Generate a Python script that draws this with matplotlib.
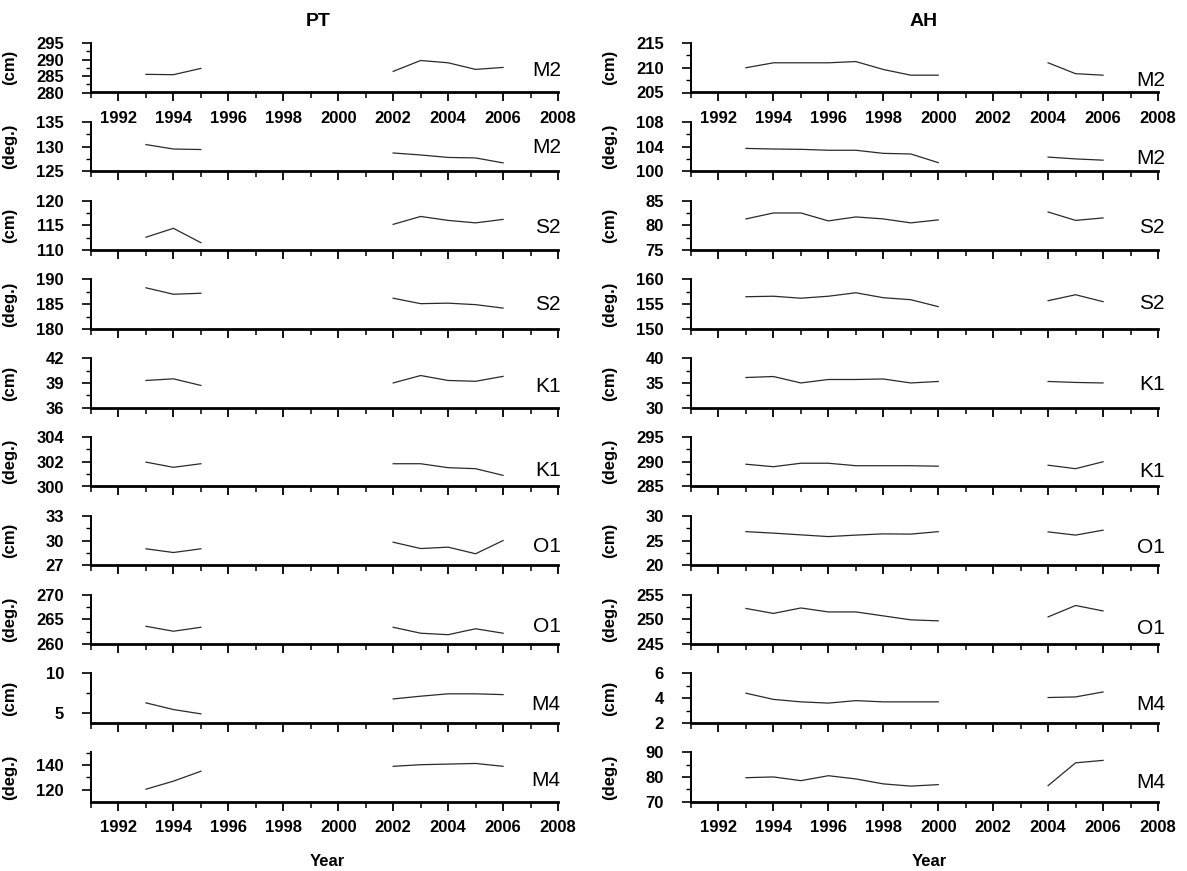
import matplotlib
matplotlib.use("Agg")
import matplotlib.pyplot as plt
from matplotlib.ticker import MultipleLocator, FixedLocator

plt.rcParams['font.family'] = ['Liberation Sans', 'DejaVu Sans']

# ---------------- data ----------------
pt_years_a = [1993, 1994, 1995]
pt_years_b = [2002, 2003, 2004, 2005, 2006]
ah_years_a = [1993, 1994, 1995, 1996, 1997, 1998, 1999, 2000]
ah_years_b = [2004, 2005, 2006]

constituents = ["M2", "M2", "S2", "S2", "K1", "K1", "O1", "O1", "M4", "M4"]
units = ["(cm)", "(deg.)"] * 5

# PT station
pt_m2_amp_a = [285.5, 285.4, 287.3]
pt_m2_amp_b = [286.4, 289.7, 289.0, 287.0, 287.6]
pt_m2_pha_a = [130.4, 129.5, 129.4]
pt_m2_pha_b = [128.7, 128.3, 127.8, 127.7, 126.7]
pt_s2_amp_a = [112.6, 114.4, 111.5]
pt_s2_amp_b = [115.2, 116.8, 116.0, 115.5, 116.2]
pt_s2_pha_a = [188.3, 187.0, 187.2]
pt_s2_pha_b = [186.2, 185.1, 185.2, 184.9, 184.2]
pt_k1_amp_a = [39.3, 39.5, 38.7]
pt_k1_amp_b = [39.0, 39.9, 39.3, 39.2, 39.8]
pt_k1_pha_a = [301.97, 301.55, 301.84]
pt_k1_pha_b = [301.84, 301.84, 301.52, 301.44, 300.9]
pt_o1_amp_a = [29.0, 28.55, 29.0]
pt_o1_amp_b = [29.8, 29.03, 29.2, 28.4, 30.0]
pt_o1_pha_a = [263.6, 262.6, 263.4]
pt_o1_pha_b = [263.4, 262.2, 261.9, 263.1, 262.2]
pt_m4_amp_a = [6.25, 5.4, 4.85]
pt_m4_amp_b = [6.75, 7.1, 7.4, 7.4, 7.3]
pt_m4_pha_a = [120.5, 127.0, 135.0]
pt_m4_pha_b = [139.0, 140.3, 140.8, 141.3, 139.0]

# AH station
ah_m2_amp_a = [210.0, 211.0, 211.0, 211.0, 211.25, 209.65, 208.5, 208.5]
ah_m2_amp_b = [211.0, 208.8, 208.5]
ah_m2_pha_a = [103.7, 103.6, 103.55, 103.4, 103.4, 102.9, 102.8, 101.4]
ah_m2_pha_b = [102.3, 102.0, 101.8]
ah_s2_amp_a = [81.3, 82.5, 82.5, 80.9, 81.7, 81.3, 80.5, 81.1]
ah_s2_amp_b = [82.7, 81.0, 81.5]
ah_s2_pha_a = [156.5, 156.6, 156.2, 156.6, 157.3, 156.3, 155.9, 154.5]
ah_s2_pha_b = [155.7, 156.9, 155.5]
ah_k1_amp_a = [36.1, 36.3, 35.0, 35.7, 35.7, 35.8, 35.0, 35.3]
ah_k1_amp_b = [35.3, 35.1, 35.0]
ah_k1_pha_a = [289.5, 289.0, 289.7, 289.7, 289.2, 289.2, 289.2, 289.1]
ah_k1_pha_b = [289.3, 288.6, 290.0]
ah_o1_amp_a = [26.8, 26.5, 26.15, 25.8, 26.1, 26.35, 26.3, 26.8]
ah_o1_amp_b = [26.75, 26.1, 27.1]
ah_o1_pha_a = [252.2, 251.2, 252.3, 251.5, 251.5, 250.7, 249.9, 249.7]
ah_o1_pha_b = [250.5, 252.8, 251.7]
ah_m4_amp_a = [4.4, 3.9, 3.7, 3.6, 3.8, 3.7, 3.7, 3.7]
ah_m4_amp_b = [4.05, 4.1, 4.5]
ah_m4_pha_a = [79.7, 80.0, 78.5, 80.5, 79.2, 77.2, 76.3, 76.9]
ah_m4_pha_b = [76.5, 85.7, 86.7]

pt_series = [
    (pt_m2_amp_a, pt_m2_amp_b), (pt_m2_pha_a, pt_m2_pha_b),
    (pt_s2_amp_a, pt_s2_amp_b), (pt_s2_pha_a, pt_s2_pha_b),
    (pt_k1_amp_a, pt_k1_amp_b), (pt_k1_pha_a, pt_k1_pha_b),
    (pt_o1_amp_a, pt_o1_amp_b), (pt_o1_pha_a, pt_o1_pha_b),
    (pt_m4_amp_a, pt_m4_amp_b), (pt_m4_pha_a, pt_m4_pha_b),
]
ah_series = [
    (ah_m2_amp_a, ah_m2_amp_b), (ah_m2_pha_a, ah_m2_pha_b),
    (ah_s2_amp_a, ah_s2_amp_b), (ah_s2_pha_a, ah_s2_pha_b),
    (ah_k1_amp_a, ah_k1_amp_b), (ah_k1_pha_a, ah_k1_pha_b),
    (ah_o1_amp_a, ah_o1_amp_b), (ah_o1_pha_a, ah_o1_pha_b),
    (ah_m4_amp_a, ah_m4_amp_b), (ah_m4_pha_a, ah_m4_pha_b),
]

# axis ranges: (ymin, ymax, labelled ticks, minor step)
pt_yaxes = [
    (280, 295, [280, 285, 290, 295], 2.5),
    (125, 135, [125, 130, 135], 2.5),
    (110, 120, [110, 115, 120], 2.5),
    (180, 190, [180, 185, 190], 2.5),
    (36, 42, [36, 39, 42], 1.5),
    (300, 304, [300, 302, 304], 1.0),
    (27, 33, [27, 30, 33], 1.5),
    (260, 270, [260, 265, 270], 2.5),
    (3.7, 10, [5, 10], 2.5),
    (110.4, 150.4, [120, 140], 10),
]
ah_yaxes = [
    (205, 215, [205, 210, 215], 2.5),
    (100, 108, [100, 104, 108], 2.0),
    (75, 85, [75, 80, 85], 2.5),
    (150, 160, [150, 155, 160], 2.5),
    (30, 40, [30, 35, 40], 2.5),
    (285, 295, [285, 290, 295], 2.5),
    (20, 30, [20, 25, 30], 2.5),
    (245, 255, [245, 250, 255], 2.5),
    (2, 6, [2, 4, 6], 1.0),
    (70, 90, [70, 80, 90], 5.0),
]

# ---------------- layout ----------------
W, H = 1187, 871
fig = plt.figure(figsize=(W / 100, H / 100), dpi=100)

col_left = [91, 691]
col_width = 467
panel_top0 = 43
panel_step = 78.8
panel_h = 49.5

pt_label_y = [0.45, 0.49, 0.46, 0.49, 0.42, 0.32, 0.38, 0.36, 0.38, 0.42]
ah_label_y = [0.25, 0.26, 0.45, 0.51, 0.46, 0.30, 0.35, 0.32, 0.37, 0.38]

line_color = "#2a2a2a"


def draw_column(ci, series, yaxes, years_a, years_b, label_y, label_x):
    for i in range(10):
        top = panel_top0 + i * panel_step
        ax = fig.add_axes([col_left[ci] / W, 1 - (top + panel_h) / H,
                           col_width / W, panel_h / H])
        a, b = series[i]
        ax.plot(years_a, a, color=line_color, lw=0.9)
        ax.plot(years_b, b, color=line_color, lw=0.9)
        ymin, ymax, ticks, mstep = yaxes[i]
        ax.set_ylim(ymin, ymax)
        ax.set_xlim(1991, 2008)
        ax.yaxis.set_major_locator(FixedLocator(ticks))
        ax.yaxis.set_minor_locator(MultipleLocator(mstep))
        ax.xaxis.set_major_locator(MultipleLocator(2))
        ax.xaxis.set_minor_locator(FixedLocator(list(range(1991, 2009, 2))))
        ax.yaxis.set_major_formatter(matplotlib.ticker.FuncFormatter(lambda v, p: f"{v:g}"))
        for s in ("top", "right"):
            ax.spines[s].set_visible(False)
        ax.spines["bottom"].set_linewidth(2.0)
        ax.spines["left"].set_linewidth(1.4)
        ax.patch.set_alpha(0)
        ax.tick_params(axis="y", which="major", direction="out", length=6.5,
                       width=1.2, labelsize=12, pad=13)
        ax.tick_params(axis="y", which="minor", direction="out", length=3.5,
                       width=1.0)
        show_x = i in (0, 9)
        ax.tick_params(axis="x", which="major", direction="out", length=6.5,
                       width=1.3, labelsize=12, pad=7, labelbottom=show_x)
        ax.tick_params(axis="x", which="minor", direction="out", length=4.3,
                       width=1.1)
        for lab in ax.get_yticklabels() + ax.get_xticklabels():
            lab.set_fontweight("bold")
        ax.set_ylabel(units[i], fontsize=12, fontweight="bold")
        ax.yaxis.set_label_coords(-74 / col_width, 0.5)
        ax.text(label_x, label_y[i], constituents[i], transform=ax.transAxes,
                ha="right", va="center", fontsize=15)


draw_column(0, pt_series, pt_yaxes, pt_years_a, pt_years_b, pt_label_y, 1.006)
draw_column(1, ah_series, ah_yaxes, ah_years_a, ah_years_b, ah_label_y, 1.015)

fig.text(318 / W, 1 - 22 / H, "PT", ha="center", va="center",
         fontsize=14, fontweight="bold")
fig.text(924 / W, 1 - 22 / H, "AH", ha="center", va="center",
         fontsize=14, fontweight="bold")
fig.text(327 / W, 1 - 861 / H, "Year", ha="center", va="center",
         fontsize=12, fontweight="bold")
fig.text(929 / W, 1 - 861 / H, "Year", ha="center", va="center",
         fontsize=12, fontweight="bold")

fig.savefig("out.png", dpi=100)
